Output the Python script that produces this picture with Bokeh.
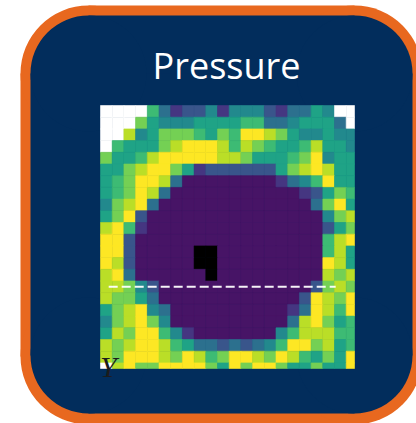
import numpy as np
from bokeh.plotting import figure
from bokeh.models import Range1d, ColumnDataSource, LinearColorMapper
from bokeh.transform import transform
from bokeh.palettes import Viridis256
from bokeh.embed import file_html
from bokeh.resources import INLINE
from bokeh.core.properties import value

# ---------------- data ----------------
title_text = "Pressure"
axis_letter = "Y"

# colour level of every cell, rows from top to bottom, columns left to right
# 0 = deep purple ... 9 = yellow ; k = black (below scale) ; w = white (above scale / no data)
pressure_rows = [
    "w w w w 6 3 1 2 2 4 1 4 4 4 2 1 3 3 5 4 w w",
    "w w w 7 5 4 4 4 5 5 5 5 6 6 3 3 4 5 5 5 3 w",
    "w w 8 4 5 7 7 7 6 5 7 6 9 9 8 7 5 4 4 5 4 4",
    "w 6 5 5 5 7 8 9 9 9 8 6 8 7 6 5 5 6 8 5 5 4",
    "7 5 5 6 8 9 9 9 9 9 8 8 7 5 5 5 6 7 9 4 5 5",
    "5 5 7 8 9 9 7 5 1 2 2 2 2 2 2 5 7 8 9 8 5 5",
    "5 6 7 9 9 8 3 0 0 0 0 0 0 0 0 1 3 4 6 9 5 5",
    "5 6 7 9 8 3 0 0 0 0 0 0 0 0 0 0 0 1 2 5 7 6",
    "4 7 8 9 3 0 0 0 0 0 0 0 0 0 0 0 0 0 3 7 9 5",
    "5 7 9 2 0 0 0 0 0 0 0 0 0 0 0 0 0 0 0 4 7 8",
    "8 9 6 1 0 0 0 0 0 0 0 0 0 0 0 0 0 0 0 2 5 7",
    "9 9 2 0 0 0 0 0 0 0 0 0 0 0 0 0 0 0 0 6 8 9",
    "9 9 2 0 0 0 0 0 k k 0 0 0 0 0 0 0 0 0 6 8 5",
    "9 8 2 0 0 0 0 0 k k 0 0 0 0 0 0 0 0 0 9 8 5",
    "8 9 3 0 0 0 0 0 0 k 0 0 0 0 0 0 0 0 0 8 7 8",
    "8 8 7 4 2 0 0 0 0 0 0 0 0 0 0 0 0 0 2 7 8 7",
    "8 7 7 5 3 0 0 0 0 0 0 0 0 0 0 0 0 2 9 8 7 9",
    "5 7 8 9 4 3 0 0 0 0 0 0 0 0 0 0 1 3 9 8 6 9",
    "4 7 8 9 7 4 0 0 0 0 0 0 0 0 0 0 3 8 9 7 5 6",
    "5 8 7 9 9 6 4 1 0 0 0 0 0 0 0 4 6 8 8 8 6 6",
    "8 7 8 9 9 8 6 5 3 3 2 3 2 3 4 6 9 9 7 8 5 6",
    "8 7 9 9 9 8 7 9 8 6 7 9 9 8 7 9 8 6 5 7 5 9",
    "w 8 9 7 7 9 9 9 9 7 5 9 7 9 9 7 5 5 7 5 5 9",
]
code_values = {"k": -1.0, "w": 10.0}

# dashed cut line (grid units: columns from left, rows from top)
cut_line_cols = [0.7, 20.1]
cut_line_row = 15.5
letter_col = -0.05
letter_row = 22.3

# ---------------- layout / style constants ----------------
W, H = 416, 423
CELL = 11.7                   # px per cell
IMG_LEFT, IMG_TOP = 100, 105  # px of the image's top-left corner
VIS_COLS, VIS_ROWS = 254 / CELL, 263 / CELL
ORANGE = "#e8681f"
NAVY = "#022d5c"

grid = np.array([[code_values[t] if t in code_values else float(t)
                  for t in row.split()] for row in pressure_rows])
n_rows, n_cols = grid.shape

left, right, top, bottom, level = [], [], [], [], []
for r in range(n_rows):
    for c in range(n_cols):
        left.append(c)
        right.append(min(c + 1, VIS_COLS))
        top.append(-r)
        bottom.append(-min(r + 1, VIS_ROWS))
        level.append(grid[r, c])
cells = ColumnDataSource(dict(left=left, right=right, top=top, bottom=bottom, level=level))

mapper = LinearColorMapper(palette=Viridis256, low=-0.5, high=9,
                           low_color="#000000", high_color="#ffffff")

p = figure(width=W, height=H, x_range=Range1d(0, W), y_range=Range1d(0, H),
           x_axis_location=None, y_axis_location=None,
           toolbar_location=None, output_backend="svg", min_border=0)
p.grid.visible = False
p.outline_line_color = None
p.background_fill_color = "white"
p.border_fill_color = "white"

p.extra_x_ranges = {"grid": Range1d(-IMG_LEFT / CELL, (W - IMG_LEFT) / CELL)}
p.extra_y_ranges = {"grid": Range1d(-(H - IMG_TOP) / CELL, IMG_TOP / CELL)}


def rounded_box(x0, x1, y0, y1, r, color):
    p.quad(left=[x0 + r], right=[x1 - r], bottom=[y0], top=[y1],
           fill_color=color, line_color=None)
    p.quad(left=[x0], right=[x1], bottom=[y0 + r], top=[y1 - r],
           fill_color=color, line_color=None)
    p.circle(x=[x0 + r, x1 - r, x0 + r, x1 - r], y=[y0 + r, y0 + r, y1 - r, y1 - r],
             radius=r, fill_color=color, line_color=None)


rounded_box(20, 422, -1, 418, 68, ORANGE)
rounded_box(30, 412, 10, 408, 58, NAVY)

p.text(x=[226], y=[358], text=[title_text], text_align="center",
       text_baseline="alphabetic", text_font=value("Open Sans"),
       text_font_size="36px", text_color="white")

p.quad(left="left", right="right", top="top", bottom="bottom", source=cells,
       fill_color=transform("level", mapper), line_color=transform("level", mapper),
       line_width=0.6, x_range_name="grid", y_range_name="grid")

p.line(x=cut_line_cols, y=[-cut_line_row, -cut_line_row], line_color="white",
       line_width=2, line_dash="9 4", line_alpha=0.95,
       x_range_name="grid", y_range_name="grid")

p.text(x=[letter_col], y=[-letter_row], text=[axis_letter], text_align="left",
       text_baseline="alphabetic", text_font=value("Liberation Serif"),
       text_font_style="italic", text_font_size="30px", text_color="#1c1c1c",
       x_range_name="grid", y_range_name="grid")

open("out.html", "w").write(file_html(p, INLINE))
